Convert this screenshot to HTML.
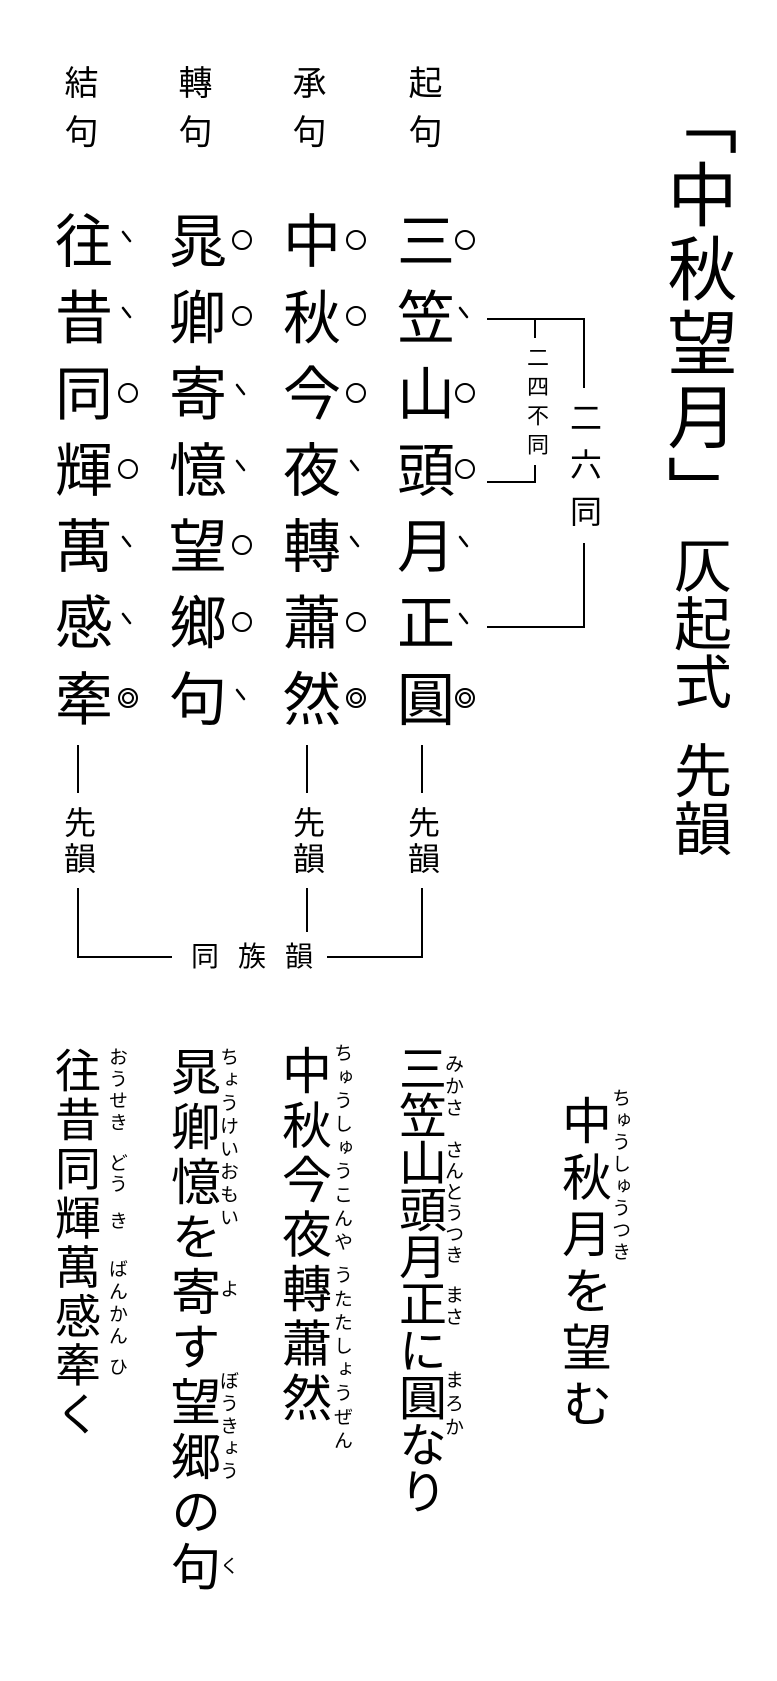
<!DOCTYPE html>
<html><head><meta charset="utf-8"><style>
html,body{margin:0;padding:0;background:#fff;}
body{width:777px;height:1681px;position:relative;overflow:hidden;font-family:"Liberation Sans","Noto Sans CJK JP",sans-serif;color:#000;}
.v{position:absolute;writing-mode:vertical-rl;text-orientation:upright;line-height:1;white-space:nowrap;}
.h{position:absolute;line-height:1;white-space:nowrap;}
svg{position:absolute;left:0;top:0;}
</style></head><body>

<!-- headers -->
<div class="v" style="left:405px;top:65px;font-size:34px;letter-spacing:15px;">起句</div>
<div class="v" style="left:289px;top:65px;font-size:34px;letter-spacing:15px;">承句</div>
<div class="v" style="left:175px;top:65px;font-size:34px;letter-spacing:15px;">轉句</div>
<div class="v" style="left:61px;top:65px;font-size:34px;letter-spacing:15px;">結句</div>

<!-- main grid -->
<div class="v" style="left:391px;top:211px;font-size:58px;letter-spacing:18.3px;">三笠山頭月正圓</div>
<div class="v" style="left:277px;top:211px;font-size:58px;letter-spacing:18.3px;">中秋今夜轉蕭然</div>
<div class="v" style="left:163px;top:211px;font-size:58px;letter-spacing:18.3px;">晁卿寄憶望鄉句</div>
<div class="v" style="left:49px;top:211px;font-size:58px;letter-spacing:18.3px;">往昔同輝萬感牽</div>

<!-- title -->
<div class="v" style="left:662px;top:85px;font-size:70px;letter-spacing:4px;">「中秋望月」</div>
<div class="v" style="left:668px;top:536px;font-size:58px;letter-spacing:0px;">仄起式</div>
<div class="v" style="left:668px;top:741px;font-size:58px;letter-spacing:0px;">先韻</div>

<!-- bracket labels -->
<div class="v" style="left:568px;top:401px;font-size:32px;letter-spacing:15px;">二六同</div>
<div class="v" style="left:525px;top:346px;font-size:22px;letter-spacing:7px;">二四不同</div>

<!-- rhyme labels -->
<div class="v" style="left:406px;top:806px;font-size:32px;letter-spacing:4px;">先韻</div>
<div class="v" style="left:291px;top:806px;font-size:32px;letter-spacing:4px;">先韻</div>
<div class="v" style="left:62px;top:806px;font-size:32px;letter-spacing:4px;">先韻</div>
<div class="h" style="left:191px;top:943px;font-size:28px;letter-spacing:19px;">同族韻</div>

<!-- reading: title -->
<div class="v" style="left:558px;top:1095px;font-size:50px;letter-spacing:6.6px;">中秋月を望む</div>
<div class="v" style="left:610px;top:1088px;font-size:19px;letter-spacing:3px;">ちゅうしゅうつき</div>

<!-- reading columns -->
<div class="v" style="left:393px;top:1044px;font-size:48px;letter-spacing:-1px;">三笠山頭月正に圓なり</div>
<div class="v" style="left:443px;top:1054px;font-size:19px;letter-spacing:3px;">みかさ</div>
<div class="v" style="left:443px;top:1140px;font-size:19px;letter-spacing:2px;">さんとうつき</div>
<div class="v" style="left:443px;top:1285px;font-size:19px;letter-spacing:3px;">まさ</div>
<div class="v" style="left:443px;top:1370px;font-size:19px;letter-spacing:4.5px;">まろか</div>

<div class="v" style="left:278px;top:1045px;font-size:50px;letter-spacing:4.5px;">中秋今夜轉蕭然</div>
<div class="v" style="left:332px;top:1043px;font-size:19px;letter-spacing:4.6px;">ちゅうしゅうこんや</div>
<div class="v" style="left:332px;top:1265px;font-size:19px;letter-spacing:4.6px;">うたたしょうぜん</div>

<div class="v" style="left:167px;top:1046px;font-size:50px;letter-spacing:5px;">晁卿憶を寄す望郷の句</div>
<div class="v" style="left:218px;top:1047px;font-size:19px;letter-spacing:3.9px;">ちょうけいおもい</div>
<div class="v" style="left:218px;top:1279px;font-size:19px;letter-spacing:3px;">よ</div>
<div class="v" style="left:218px;top:1371px;font-size:19px;letter-spacing:3.5px;">ぼうきょう</div>
<div class="v" style="left:218px;top:1556px;font-size:19px;letter-spacing:3px;">く</div>

<div class="v" style="left:52px;top:1047px;font-size:46px;letter-spacing:3.1px;">往昔同輝萬感牽く</div>
<div class="v" style="left:107px;top:1047px;font-size:19px;letter-spacing:2.7px;">おうせき</div>
<div class="v" style="left:107px;top:1153px;font-size:19px;letter-spacing:2px;">どう</div>
<div class="v" style="left:107px;top:1211px;font-size:19px;letter-spacing:3px;">き</div>
<div class="v" style="left:107px;top:1259px;font-size:19px;letter-spacing:3.3px;">ばんかん</div>
<div class="v" style="left:107px;top:1357px;font-size:19px;letter-spacing:3px;">ひ</div>

<svg width="777" height="1681" viewBox="0 0 777 1681" fill="none" stroke="#000" stroke-width="2">
  <!-- brackets -->
  <path d="M487 319 H584 V388 M584 543 V627 H487"/>
  <path d="M535 319 V338 M535 465 V482 H487"/>
  <!-- rhyme lines -->
  <path d="M422 745 V793 M307 745 V793 M78 745 V793"/>
  <path d="M422 888 V957 H327 M307 888 V932 M78 888 V957 H172"/>
  <!-- marks col 三 x465 -->
  <g stroke-width="2">
    <circle cx="465" cy="240" r="9"/>
    <circle cx="465" cy="393" r="9"/>
    <circle cx="465" cy="469" r="9"/>
    <circle cx="465" cy="698" r="9"/><circle cx="465" cy="698" r="5"/>
    <circle cx="356" cy="240" r="9"/>
    <circle cx="356" cy="316" r="9"/>
    <circle cx="356" cy="393" r="9"/>
    <circle cx="356" cy="622" r="9"/>
    <circle cx="356" cy="698" r="9"/><circle cx="356" cy="698" r="5"/>
    <circle cx="242" cy="240" r="9"/>
    <circle cx="242" cy="316" r="9"/>
    <circle cx="242" cy="545" r="9"/>
    <circle cx="242" cy="622" r="9"/>
    <circle cx="128" cy="393" r="9"/>
    <circle cx="128" cy="469" r="9"/>
    <circle cx="128" cy="698" r="9"/><circle cx="128" cy="698" r="5"/>
  </g>
  <g stroke-width="2.5" stroke-linecap="round">
    <path d="M460 308 L467 317"/>
    <path d="M460 537 L467 546"/>
    <path d="M460 614 L467 623"/>
    <path d="M351 461 L358 470"/>
    <path d="M351 537 L358 546"/>
    <path d="M237 385 L244 394"/>
    <path d="M237 461 L244 470"/>
    <path d="M237 690 L244 699"/>
    <path d="M123 232 L130 241"/>
    <path d="M123 308 L130 317"/>
    <path d="M123 537 L130 546"/>
    <path d="M123 614 L130 623"/>
  </g>
</svg>
</body></html>
